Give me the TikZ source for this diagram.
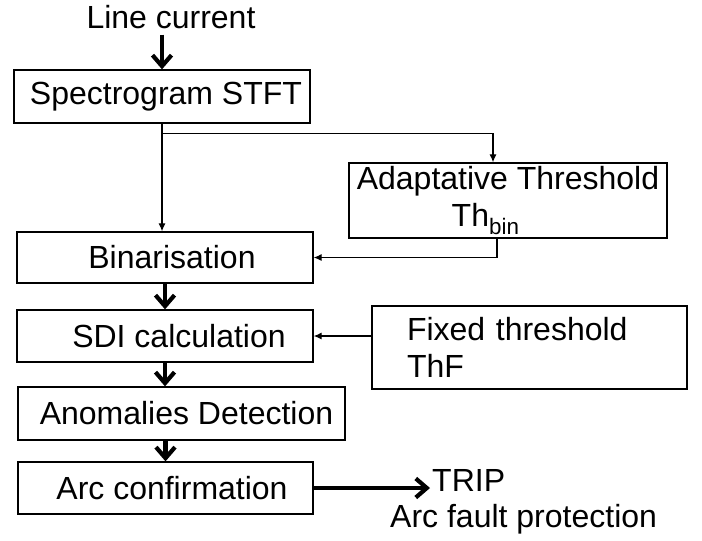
\documentclass[tikz,border=0pt]{standalone}
\usepackage{fontspec}
\setmainfont{Liberation Sans}
\usetikzlibrary{positioning, arrows.meta}

\tikzset{
	blk/.style={draw, line width=1.3pt, minimum width=#1, inner sep=0pt},
	thinarr/.style={-{Latex[length=8pt, width=7pt]}, line width=1.2pt},
	fatarr/.style={-{Straight Barb[length=11pt, width=19pt]}, line width=4.2pt},
	lbl/.style={inner sep=0pt},
}

\begin{document}
\begin{tikzpicture}[x=1pt, y=-1pt, font=\fontsize{32}{37}\selectfont]
	\useasboundingbox (0,0) rectangle (702,541);
	% main chain
	\node [lbl, anchor=base] (line) at (171,28) {Line current};
	\node [blk=296pt, minimum height=53pt] (spec) at (162,96.5) {\hspace*{8pt}Spectrogram STFT};
	\node [blk=296pt, minimum height=51pt] (bin) at (165,257.5) {\hspace*{14pt}Binarisation};
	\node [blk=296pt, minimum height=52pt] (sdi) at (165,336) {\hspace*{28pt}SDI calculation};
	\node [blk=327pt, minimum height=53pt] (anom) at (181.5,413.5) {\hspace*{10pt}Anomalies Detection};
	\node [blk=295pt, minimum height=52pt] (arc) at (165.5,488) {\hspace*{13pt}Arc confirmation};
	% side boxes
	\node [blk=318pt, minimum height=75pt, align=center] (adapt) at (508,200.5)
		{Adaptative Threshold\\Th\textsubscript{bin}\hspace*{1.4em}};
	\node [draw, line width=1.3pt, minimum height=83pt, text width=245pt, inner xsep=35pt,
		align=left] (fixed) at (529.5,347.5) {Fixed threshold\\ThF};
	% output
	\node [lbl, anchor=base west] (trip) at (432,491) {TRIP};
	\node [lbl, anchor=base west] (prot) at (390,527) {Arc fault protection};
	\coordinate (split) at ([yshift=-10pt]spec.south);

	\draw [fatarr, shorten <=6pt] (spec.north |- line.south) -- (spec.north);
	\draw [thinarr] (spec.south) -- (spec.south |- bin.north);
	\draw [thinarr] (split) -| ([xshift=-15pt]adapt.north);
	\draw [thinarr] ([xshift=-11pt]adapt.south) |- (bin.east);
	\draw [fatarr] (bin.south) -- (sdi.north);
	\draw [thinarr] (fixed.west |- sdi.east) -- (sdi.east);
	\draw [fatarr] (sdi.south) -- (sdi.south |- anom.north);
	\draw [fatarr] (anom.south -| arc.north) -- (arc.north);
	\draw [fatarr, shorten >=2pt] (arc.east) -- (arc.east -| trip.west);
\end{tikzpicture}
\end{document}
